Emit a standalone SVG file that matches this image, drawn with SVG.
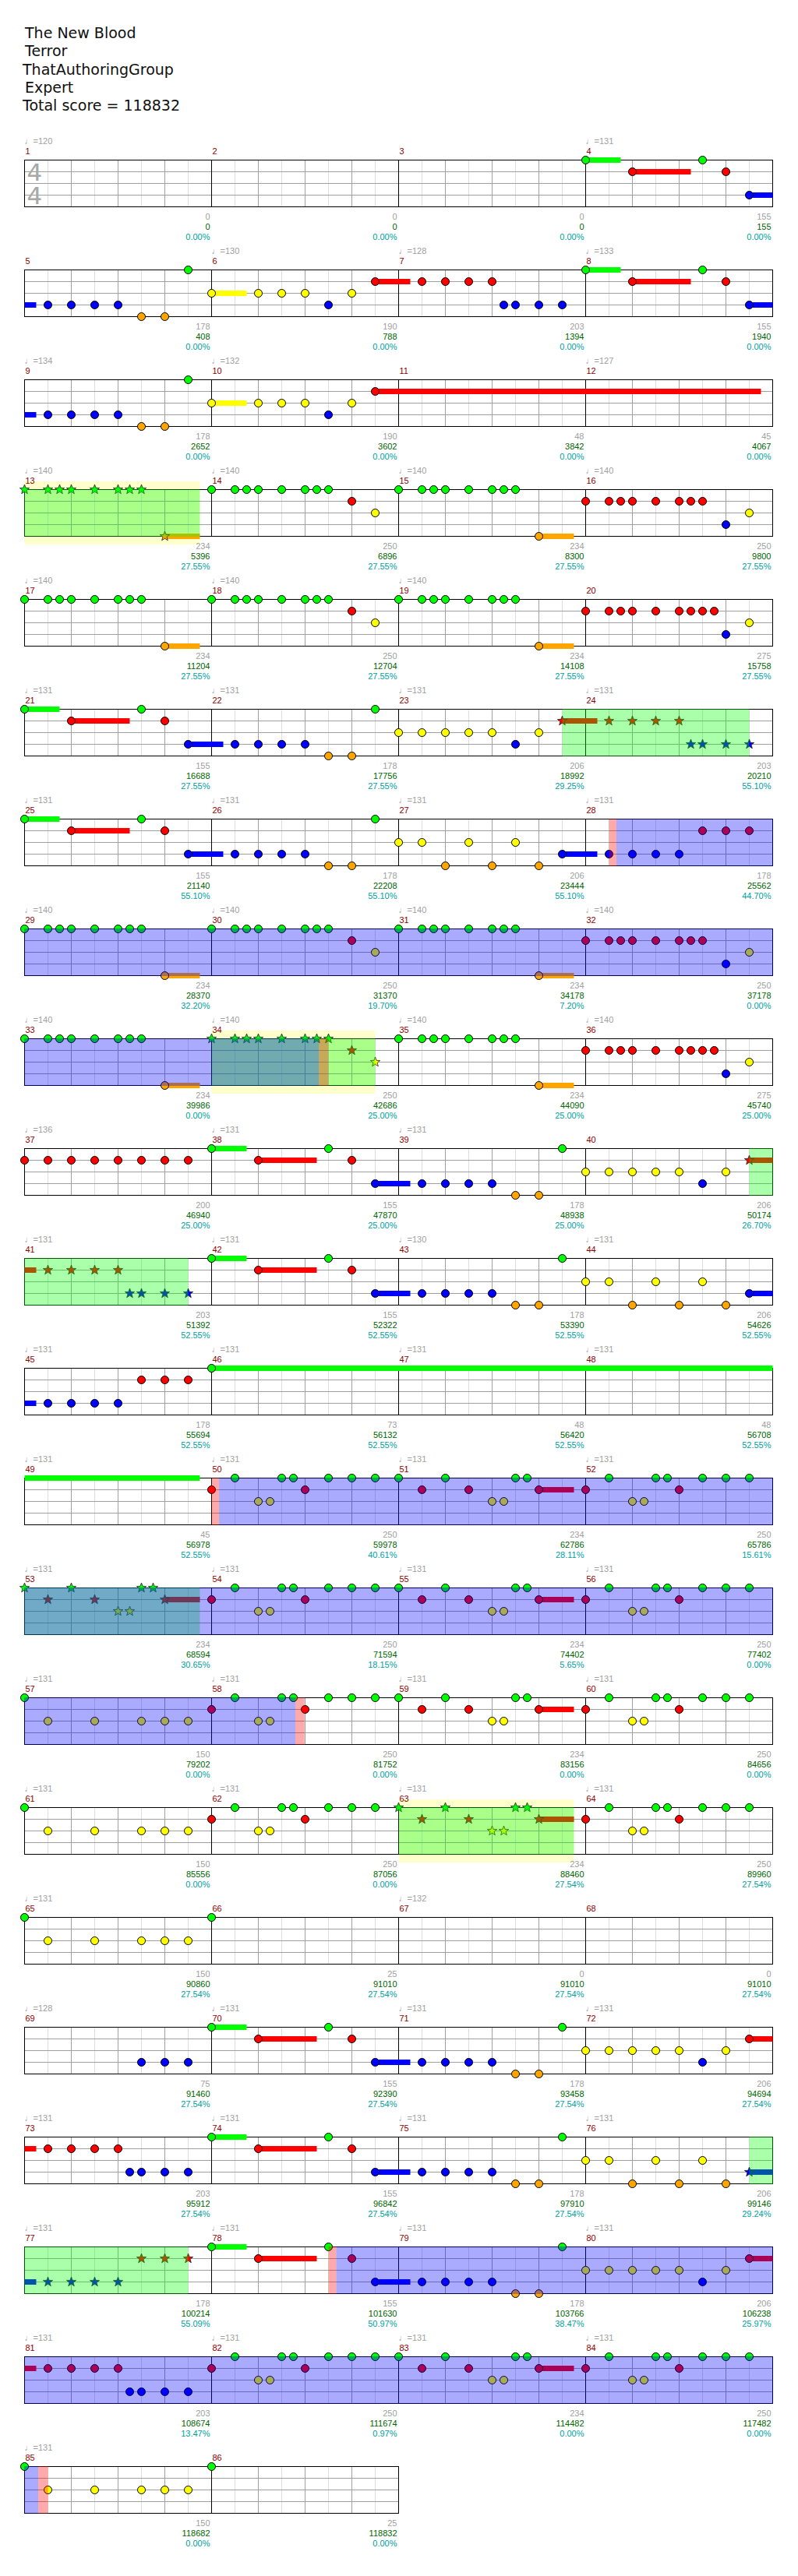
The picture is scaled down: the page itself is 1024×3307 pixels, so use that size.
<svg xmlns="http://www.w3.org/2000/svg" xmlns:xlink="http://www.w3.org/1999/xlink" width="1024" height="3307" viewBox="0 0 1024 3307">
<style>
.hd{font:19px "DejaVu Sans",sans-serif;fill:#111}
.ts{font:31px "DejaVu Sans",sans-serif;fill:#a8a8a8}
.tp{font:11px "Liberation Sans","DejaVu Sans",sans-serif;fill:#a0a0a0}
.mn{font:11px "Liberation Sans",sans-serif;fill:#8b0000}
.s1,.s2,.s3{font:11px "Liberation Sans",sans-serif;text-anchor:end}
.s1{fill:#a0a0a0}.s2{fill:#006400}.s3{fill:#00a0a0}
.zg{fill:#00ff00}.zr{fill:#ff0000}.zy{fill:#ffff00}.zb{fill:#0000ff}.zo{fill:#ffa500}
.oy{fill:#ffff00;fill-opacity:.2}.og{fill:#00ff00;fill-opacity:.333}.or{fill:#ff0000;fill-opacity:.333}.ob{fill:#0000ff;fill-opacity:.333}
</style>
<defs>
<g id="grid4" fill="none">
<path stroke="#dddddd" d="M30 0V60M90 0V60M150 0V60M210 0V60M270 0V60M330 0V60M390 0V60M450 0V60M510 0V60M570 0V60M630 0V60M690 0V60M750 0V60M810 0V60M870 0V60M930 0V60"/>
<path stroke="#a0a0a0" d="M60 0V60M120 0V60M180 0V60M300 0V60M360 0V60M420 0V60M540 0V60M600 0V60M660 0V60M780 0V60M840 0V60M900 0V60M0 15H960M0 30H960M0 45H960"/>
<path stroke="#000" d="M240 0V60M480 0V60M720 0V60"/>
<rect width="960" height="60" stroke="#000"/>
</g>
<g id="grid2" fill="none">
<path stroke="#dddddd" d="M30 0V60M90 0V60M150 0V60M210 0V60M270 0V60M330 0V60M390 0V60M450 0V60"/>
<path stroke="#a0a0a0" d="M60 0V60M120 0V60M180 0V60M300 0V60M360 0V60M420 0V60M0 15H480M0 30H480M0 45H480"/>
<path stroke="#000" d="M240 0V60"/>
<rect width="480" height="60" stroke="#000"/>
</g>
<circle id="g" r="5" fill="#00ff00" stroke="#000"/>
<circle id="r" cy="15" r="5" fill="#ff0000" stroke="#000"/>
<circle id="y" cy="30" r="5" fill="#ffff00" stroke="#000"/>
<circle id="b" cy="45" r="5" fill="#0000ff" stroke="#000"/>
<circle id="o" cy="60" r="5" fill="#ffa500" stroke="#000"/>
<path id="st" stroke="#222" stroke-width="0.8" d="M0,-6.5L1.59,-2.18L6.18,-2.01L2.57,0.83L3.82,5.26L0,2.7L-3.82,5.26L-2.57,0.83L-6.18,-2.01L-1.59,-2.18Z"/>
<use id="sg" href="#st" fill="#00ff00"/>
<use id="sr" href="#st" y="15" fill="#ff0000"/>
<use id="sy" href="#st" y="30" fill="#ffff00"/>
<use id="sb" href="#st" y="45" fill="#0000ff"/>
<use id="so" href="#st" y="60" fill="#ffa500"/>
</defs>
<rect width="1024" height="3307" fill="#fff"/>
<g id="header">
<text class="hd" x="32" y="49">The New Blood</text>
<text class="hd" x="32" y="72">Terror</text>
<text class="hd" x="29" y="95.5">ThatAuthoringGroup</text>
<text class="hd" x="32" y="118.5">Expert</text>
<text class="hd" x="29" y="141.5">Total score = 118832</text>
</g>

<g id="row1" transform="translate(31.5 205.5)">
<use href="#grid4"/>
<text class="ts" x="3" y="26.5">4</text><text class="ts" x="3" y="56.5">4</text>
<rect class="zg" x="720" y="-3.5" width="45" height="7"/><rect class="zr" x="780" y="11.5" width="75" height="7"/><rect class="zb" x="930" y="41.5" width="30" height="7"/>
<use href="#g" x="720"/><use href="#r" x="780"/><use href="#g" x="870"/><use href="#r" x="900"/><use href="#b" x="930"/>
<text class="tp" y="-20.5"><tspan x="0">♩=120</tspan><tspan x="720">♩=131</tspan></text>
<text class="mn" y="-7.5"><tspan x="1">1</tspan><tspan x="241">2</tspan><tspan x="481">3</tspan><tspan x="721">4</tspan></text>
<text class="s1" y="76.5"><tspan x="238">0</tspan><tspan x="478">0</tspan><tspan x="718">0</tspan><tspan x="958">155</tspan></text>
<text class="s2" y="89.5"><tspan x="238">0</tspan><tspan x="478">0</tspan><tspan x="718">0</tspan><tspan x="958">155</tspan></text>
<text class="s3" y="102.5"><tspan x="238">0.00%</tspan><tspan x="478">0.00%</tspan><tspan x="718">0.00%</tspan><tspan x="958">0.00%</tspan></text>
</g>

<g id="row2" transform="translate(31.5 346.5)">
<use href="#grid4"/>
<rect class="zb" x="0" y="41.5" width="15" height="7"/><rect class="zy" x="240" y="26.5" width="45" height="7"/><rect class="zr" x="450" y="11.5" width="45" height="7"/><rect class="zg" x="720" y="-3.5" width="45" height="7"/><rect class="zr" x="780" y="11.5" width="75" height="7"/><rect class="zb" x="930" y="41.5" width="30" height="7"/>
<use href="#b" x="30"/><use href="#b" x="60"/><use href="#b" x="90"/><use href="#b" x="120"/><use href="#o" x="150"/><use href="#o" x="180"/><use href="#g" x="210"/><use href="#y" x="240"/><use href="#y" x="300"/><use href="#y" x="330"/><use href="#y" x="360"/><use href="#b" x="390"/><use href="#y" x="420"/><use href="#r" x="450"/><use href="#r" x="510"/><use href="#r" x="540"/><use href="#r" x="570"/><use href="#r" x="600"/><use href="#b" x="615"/><use href="#b" x="630"/><use href="#b" x="660"/><use href="#b" x="690"/><use href="#g" x="720"/><use href="#r" x="780"/><use href="#g" x="870"/><use href="#r" x="900"/><use href="#b" x="930"/>
<text class="tp" y="-20.5"><tspan x="240">♩=130</tspan><tspan x="480">♩=128</tspan><tspan x="720">♩=133</tspan></text>
<text class="mn" y="-7.5"><tspan x="1">5</tspan><tspan x="241">6</tspan><tspan x="481">7</tspan><tspan x="721">8</tspan></text>
<text class="s1" y="76.5"><tspan x="238">178</tspan><tspan x="478">190</tspan><tspan x="718">203</tspan><tspan x="958">155</tspan></text>
<text class="s2" y="89.5"><tspan x="238">408</tspan><tspan x="478">788</tspan><tspan x="718">1394</tspan><tspan x="958">1940</tspan></text>
<text class="s3" y="102.5"><tspan x="238">0.00%</tspan><tspan x="478">0.00%</tspan><tspan x="718">0.00%</tspan><tspan x="958">0.00%</tspan></text>
</g>

<g id="row3" transform="translate(31.5 487.5)">
<use href="#grid4"/>
<rect class="zb" x="0" y="41.5" width="15" height="7"/><rect class="zy" x="240" y="26.5" width="45" height="7"/><rect class="zr" x="450" y="11.5" width="495" height="7"/>
<use href="#b" x="30"/><use href="#b" x="60"/><use href="#b" x="90"/><use href="#b" x="120"/><use href="#o" x="150"/><use href="#o" x="180"/><use href="#g" x="210"/><use href="#y" x="240"/><use href="#y" x="300"/><use href="#y" x="330"/><use href="#y" x="360"/><use href="#b" x="390"/><use href="#y" x="420"/><use href="#r" x="450"/>
<text class="tp" y="-20.5"><tspan x="0">♩=134</tspan><tspan x="240">♩=132</tspan><tspan x="720">♩=127</tspan></text>
<text class="mn" y="-7.5"><tspan x="1">9</tspan><tspan x="241">10</tspan><tspan x="481">11</tspan><tspan x="721">12</tspan></text>
<text class="s1" y="76.5"><tspan x="238">178</tspan><tspan x="478">190</tspan><tspan x="718">48</tspan><tspan x="958">45</tspan></text>
<text class="s2" y="89.5"><tspan x="238">2652</tspan><tspan x="478">3602</tspan><tspan x="718">3842</tspan><tspan x="958">4067</tspan></text>
<text class="s3" y="102.5"><tspan x="238">0.00%</tspan><tspan x="478">0.00%</tspan><tspan x="718">0.00%</tspan><tspan x="958">0.00%</tspan></text>
</g>

<g id="row4" transform="translate(31.5 628.5)">
<rect class="oy" x="0" y="-10.5" width="225" height="81"/>
<use href="#grid4"/>
<rect class="zo" x="180" y="56.5" width="45" height="7"/><rect class="zo" x="660" y="56.5" width="45" height="7"/>
<use href="#sg" x="0"/><use href="#sg" x="30"/><use href="#sg" x="45"/><use href="#sg" x="60"/><use href="#sg" x="90"/><use href="#sg" x="120"/><use href="#sg" x="135"/><use href="#sg" x="150"/><use href="#so" x="180"/>
<use href="#g" x="240"/><use href="#g" x="270"/><use href="#g" x="285"/><use href="#g" x="300"/><use href="#g" x="330"/><use href="#g" x="360"/><use href="#g" x="375"/><use href="#g" x="390"/><use href="#r" x="420"/><use href="#y" x="450"/><use href="#g" x="480"/><use href="#g" x="510"/><use href="#g" x="525"/><use href="#g" x="540"/><use href="#g" x="570"/><use href="#g" x="600"/><use href="#g" x="615"/><use href="#g" x="630"/><use href="#o" x="660"/><use href="#r" x="720"/><use href="#r" x="750"/><use href="#r" x="765"/><use href="#r" x="780"/><use href="#r" x="810"/><use href="#r" x="840"/><use href="#r" x="855"/><use href="#r" x="870"/><use href="#b" x="900"/><use href="#y" x="930"/>
<rect class="og" x="-0.5" y="-0.5" width="225.5" height="61"/>
<text class="tp" y="-20.5"><tspan x="0">♩=140</tspan><tspan x="240">♩=140</tspan><tspan x="480">♩=140</tspan><tspan x="720">♩=140</tspan></text>
<text class="mn" y="-7.5"><tspan x="1">13</tspan><tspan x="241">14</tspan><tspan x="481">15</tspan><tspan x="721">16</tspan></text>
<text class="s1" y="76.5"><tspan x="238">234</tspan><tspan x="478">250</tspan><tspan x="718">234</tspan><tspan x="958">250</tspan></text>
<text class="s2" y="89.5"><tspan x="238">5396</tspan><tspan x="478">6896</tspan><tspan x="718">8300</tspan><tspan x="958">9800</tspan></text>
<text class="s3" y="102.5"><tspan x="238">27.55%</tspan><tspan x="478">27.55%</tspan><tspan x="718">27.55%</tspan><tspan x="958">27.55%</tspan></text>
</g>

<g id="row5" transform="translate(31.5 769.5)">
<use href="#grid4"/>
<rect class="zo" x="180" y="56.5" width="45" height="7"/><rect class="zo" x="660" y="56.5" width="45" height="7"/>
<use href="#g" x="0"/><use href="#g" x="30"/><use href="#g" x="45"/><use href="#g" x="60"/><use href="#g" x="90"/><use href="#g" x="120"/><use href="#g" x="135"/><use href="#g" x="150"/><use href="#o" x="180"/>
<use href="#g" x="240"/><use href="#g" x="270"/><use href="#g" x="285"/><use href="#g" x="300"/><use href="#g" x="330"/><use href="#g" x="360"/><use href="#g" x="375"/><use href="#g" x="390"/><use href="#r" x="420"/><use href="#y" x="450"/><use href="#g" x="480"/><use href="#g" x="510"/><use href="#g" x="525"/><use href="#g" x="540"/><use href="#g" x="570"/><use href="#g" x="600"/><use href="#g" x="615"/><use href="#g" x="630"/><use href="#o" x="660"/><use href="#r" x="720"/><use href="#r" x="750"/><use href="#r" x="765"/><use href="#r" x="780"/><use href="#r" x="810"/><use href="#r" x="840"/><use href="#r" x="855"/><use href="#r" x="870"/><use href="#r" x="885"/><use href="#b" x="900"/><use href="#y" x="930"/>
<text class="tp" y="-20.5"><tspan x="0">♩=140</tspan><tspan x="240">♩=140</tspan><tspan x="480">♩=140</tspan></text>
<text class="mn" y="-7.5"><tspan x="1">17</tspan><tspan x="241">18</tspan><tspan x="481">19</tspan><tspan x="721">20</tspan></text>
<text class="s1" y="76.5"><tspan x="238">234</tspan><tspan x="478">250</tspan><tspan x="718">234</tspan><tspan x="958">275</tspan></text>
<text class="s2" y="89.5"><tspan x="238">11204</tspan><tspan x="478">12704</tspan><tspan x="718">14108</tspan><tspan x="958">15758</tspan></text>
<text class="s3" y="102.5"><tspan x="238">27.55%</tspan><tspan x="478">27.55%</tspan><tspan x="718">27.55%</tspan><tspan x="958">27.55%</tspan></text>
</g>

<g id="row6" transform="translate(31.5 910.5)">
<use href="#grid4"/>
<rect class="zg" x="0" y="-3.5" width="45" height="7"/><rect class="zr" x="60" y="11.5" width="75" height="7"/><rect class="zb" x="210" y="41.5" width="45" height="7"/><rect class="zr" x="690" y="11.5" width="45" height="7"/>
<use href="#g" x="0"/><use href="#r" x="60"/><use href="#g" x="150"/><use href="#r" x="180"/><use href="#b" x="210"/><use href="#b" x="270"/><use href="#b" x="300"/><use href="#b" x="330"/><use href="#b" x="360"/><use href="#o" x="390"/><use href="#o" x="420"/><use href="#g" x="450"/><use href="#y" x="480"/><use href="#y" x="510"/><use href="#y" x="540"/><use href="#y" x="570"/><use href="#y" x="600"/><use href="#b" x="630"/><use href="#y" x="660"/>
<use href="#sr" x="690"/><use href="#sr" x="750"/><use href="#sr" x="780"/><use href="#sr" x="810"/><use href="#sr" x="840"/><use href="#sb" x="855"/><use href="#sb" x="870"/><use href="#sb" x="900"/><use href="#sb" x="930"/>
<rect class="og" x="690" y="-0.5" width="240" height="61"/>
<text class="tp" y="-20.5"><tspan x="0">♩=131</tspan><tspan x="240">♩=131</tspan><tspan x="480">♩=131</tspan><tspan x="720">♩=131</tspan></text>
<text class="mn" y="-7.5"><tspan x="1">21</tspan><tspan x="241">22</tspan><tspan x="481">23</tspan><tspan x="721">24</tspan></text>
<text class="s1" y="76.5"><tspan x="238">155</tspan><tspan x="478">178</tspan><tspan x="718">206</tspan><tspan x="958">203</tspan></text>
<text class="s2" y="89.5"><tspan x="238">16688</tspan><tspan x="478">17756</tspan><tspan x="718">18992</tspan><tspan x="958">20210</tspan></text>
<text class="s3" y="102.5"><tspan x="238">27.55%</tspan><tspan x="478">27.55%</tspan><tspan x="718">29.25%</tspan><tspan x="958">55.10%</tspan></text>
</g>

<g id="row7" transform="translate(31.5 1051.5)">
<use href="#grid4"/>
<rect class="zg" x="0" y="-3.5" width="45" height="7"/><rect class="zr" x="60" y="11.5" width="75" height="7"/><rect class="zb" x="210" y="41.5" width="45" height="7"/><rect class="zb" x="690" y="41.5" width="45" height="7"/>
<use href="#g" x="0"/><use href="#r" x="60"/><use href="#g" x="150"/><use href="#r" x="180"/><use href="#b" x="210"/><use href="#b" x="270"/><use href="#b" x="300"/><use href="#b" x="330"/><use href="#b" x="360"/><use href="#o" x="390"/><use href="#o" x="420"/><use href="#g" x="450"/><use href="#y" x="480"/><use href="#y" x="510"/><use href="#o" x="540"/><use href="#y" x="570"/><use href="#o" x="600"/><use href="#y" x="630"/><use href="#o" x="660"/><use href="#b" x="690"/><use href="#b" x="750"/><use href="#b" x="780"/><use href="#b" x="810"/><use href="#b" x="840"/><use href="#r" x="870"/><use href="#r" x="900"/><use href="#r" x="930"/>
<rect class="or" x="750" y="-0.5" width="9.5" height="61"/><rect class="ob" x="759.5" y="-0.5" width="201" height="61"/>
<text class="tp" y="-20.5"><tspan x="0">♩=131</tspan><tspan x="240">♩=131</tspan><tspan x="480">♩=131</tspan><tspan x="720">♩=131</tspan></text>
<text class="mn" y="-7.5"><tspan x="1">25</tspan><tspan x="241">26</tspan><tspan x="481">27</tspan><tspan x="721">28</tspan></text>
<text class="s1" y="76.5"><tspan x="238">155</tspan><tspan x="478">178</tspan><tspan x="718">206</tspan><tspan x="958">178</tspan></text>
<text class="s2" y="89.5"><tspan x="238">21140</tspan><tspan x="478">22208</tspan><tspan x="718">23444</tspan><tspan x="958">25562</tspan></text>
<text class="s3" y="102.5"><tspan x="238">55.10%</tspan><tspan x="478">55.10%</tspan><tspan x="718">55.10%</tspan><tspan x="958">44.70%</tspan></text>
</g>

<g id="row8" transform="translate(31.5 1192.5)">
<use href="#grid4"/>
<rect class="zo" x="180" y="56.5" width="45" height="7"/><rect class="zo" x="660" y="56.5" width="45" height="7"/>
<use href="#g" x="0"/><use href="#g" x="30"/><use href="#g" x="45"/><use href="#g" x="60"/><use href="#g" x="90"/><use href="#g" x="120"/><use href="#g" x="135"/><use href="#g" x="150"/><use href="#o" x="180"/>
<use href="#g" x="240"/><use href="#g" x="270"/><use href="#g" x="285"/><use href="#g" x="300"/><use href="#g" x="330"/><use href="#g" x="360"/><use href="#g" x="375"/><use href="#g" x="390"/><use href="#r" x="420"/><use href="#y" x="450"/><use href="#g" x="480"/><use href="#g" x="510"/><use href="#g" x="525"/><use href="#g" x="540"/><use href="#g" x="570"/><use href="#g" x="600"/><use href="#g" x="615"/><use href="#g" x="630"/><use href="#o" x="660"/><use href="#r" x="720"/><use href="#r" x="750"/><use href="#r" x="765"/><use href="#r" x="780"/><use href="#r" x="810"/><use href="#r" x="840"/><use href="#r" x="855"/><use href="#r" x="870"/><use href="#b" x="900"/><use href="#y" x="930"/>
<rect class="ob" x="-0.5" y="-0.5" width="961" height="61"/>
<text class="tp" y="-20.5"><tspan x="0">♩=140</tspan><tspan x="240">♩=140</tspan><tspan x="480">♩=140</tspan><tspan x="720">♩=140</tspan></text>
<text class="mn" y="-7.5"><tspan x="1">29</tspan><tspan x="241">30</tspan><tspan x="481">31</tspan><tspan x="721">32</tspan></text>
<text class="s1" y="76.5"><tspan x="238">234</tspan><tspan x="478">250</tspan><tspan x="718">234</tspan><tspan x="958">250</tspan></text>
<text class="s2" y="89.5"><tspan x="238">28370</tspan><tspan x="478">31370</tspan><tspan x="718">34178</tspan><tspan x="958">37178</tspan></text>
<text class="s3" y="102.5"><tspan x="238">32.20%</tspan><tspan x="478">19.70%</tspan><tspan x="718">7.20%</tspan><tspan x="958">0.00%</tspan></text>
</g>

<g id="row9" transform="translate(31.5 1333.5)">
<rect class="oy" x="240" y="-10.5" width="210" height="81"/>
<use href="#grid4"/>
<rect class="zo" x="180" y="56.5" width="45" height="7"/><rect class="zo" x="660" y="56.5" width="45" height="7"/>
<use href="#g" x="0"/><use href="#g" x="30"/><use href="#g" x="45"/><use href="#g" x="60"/><use href="#g" x="90"/><use href="#g" x="120"/><use href="#g" x="135"/><use href="#g" x="150"/><use href="#o" x="180"/>
<use href="#sg" x="240"/><use href="#sg" x="270"/><use href="#sg" x="285"/><use href="#sg" x="300"/><use href="#sg" x="330"/><use href="#sg" x="360"/><use href="#sg" x="375"/><use href="#sg" x="390"/><use href="#sr" x="420"/><use href="#sy" x="450"/>
<use href="#g" x="480"/><use href="#g" x="510"/><use href="#g" x="525"/><use href="#g" x="540"/><use href="#g" x="570"/><use href="#g" x="600"/><use href="#g" x="615"/><use href="#g" x="630"/><use href="#o" x="660"/><use href="#r" x="720"/><use href="#r" x="750"/><use href="#r" x="765"/><use href="#r" x="780"/><use href="#r" x="810"/><use href="#r" x="840"/><use href="#r" x="855"/><use href="#r" x="870"/><use href="#r" x="885"/><use href="#b" x="900"/><use href="#y" x="930"/>
<rect class="og" x="240" y="-0.5" width="210" height="61"/><rect class="or" x="377.5" y="-0.5" width="12.5" height="61"/><rect class="ob" x="-0.5" y="-0.5" width="378" height="61"/>
<text class="tp" y="-20.5"><tspan x="0">♩=140</tspan><tspan x="240">♩=140</tspan><tspan x="480">♩=140</tspan><tspan x="720">♩=140</tspan></text>
<text class="mn" y="-7.5"><tspan x="1">33</tspan><tspan x="241">34</tspan><tspan x="481">35</tspan><tspan x="721">36</tspan></text>
<text class="s1" y="76.5"><tspan x="238">234</tspan><tspan x="478">250</tspan><tspan x="718">234</tspan><tspan x="958">275</tspan></text>
<text class="s2" y="89.5"><tspan x="238">39986</tspan><tspan x="478">42686</tspan><tspan x="718">44090</tspan><tspan x="958">45740</tspan></text>
<text class="s3" y="102.5"><tspan x="238">0.00%</tspan><tspan x="478">25.00%</tspan><tspan x="718">25.00%</tspan><tspan x="958">25.00%</tspan></text>
</g>

<g id="row10" transform="translate(31.5 1474.5)">
<use href="#grid4"/>
<rect class="zg" x="240" y="-3.5" width="45" height="7"/><rect class="zr" x="300" y="11.5" width="75" height="7"/><rect class="zb" x="450" y="41.5" width="45" height="7"/><rect class="zr" x="930" y="11.5" width="30" height="7"/>
<use href="#r" x="0"/><use href="#r" x="30"/><use href="#r" x="60"/><use href="#r" x="90"/><use href="#r" x="120"/><use href="#r" x="150"/><use href="#r" x="180"/><use href="#r" x="210"/><use href="#g" x="240"/><use href="#r" x="300"/><use href="#g" x="390"/><use href="#r" x="420"/><use href="#b" x="450"/><use href="#b" x="510"/><use href="#b" x="540"/><use href="#b" x="570"/><use href="#b" x="600"/><use href="#o" x="630"/><use href="#o" x="660"/><use href="#g" x="690"/><use href="#y" x="720"/><use href="#y" x="750"/><use href="#y" x="780"/><use href="#y" x="810"/><use href="#y" x="840"/><use href="#b" x="870"/><use href="#y" x="900"/>
<use href="#sr" x="930"/>
<rect class="og" x="930" y="-0.5" width="30.5" height="61"/>
<text class="tp" y="-20.5"><tspan x="0">♩=136</tspan><tspan x="240">♩=131</tspan><tspan x="480">♩=131</tspan></text>
<text class="mn" y="-7.5"><tspan x="1">37</tspan><tspan x="241">38</tspan><tspan x="481">39</tspan><tspan x="721">40</tspan></text>
<text class="s1" y="76.5"><tspan x="238">200</tspan><tspan x="478">155</tspan><tspan x="718">178</tspan><tspan x="958">206</tspan></text>
<text class="s2" y="89.5"><tspan x="238">46940</tspan><tspan x="478">47870</tspan><tspan x="718">48938</tspan><tspan x="958">50174</tspan></text>
<text class="s3" y="102.5"><tspan x="238">25.00%</tspan><tspan x="478">25.00%</tspan><tspan x="718">25.00%</tspan><tspan x="958">26.70%</tspan></text>
</g>

<g id="row11" transform="translate(31.5 1615.5)">
<use href="#grid4"/>
<rect class="zr" x="0" y="11.5" width="15" height="7"/><rect class="zg" x="240" y="-3.5" width="45" height="7"/><rect class="zr" x="300" y="11.5" width="75" height="7"/><rect class="zb" x="450" y="41.5" width="45" height="7"/><rect class="zb" x="930" y="41.5" width="30" height="7"/>
<use href="#sr" x="30"/><use href="#sr" x="60"/><use href="#sr" x="90"/><use href="#sr" x="120"/><use href="#sb" x="135"/><use href="#sb" x="150"/><use href="#sb" x="180"/><use href="#sb" x="210"/>
<use href="#g" x="240"/><use href="#r" x="300"/><use href="#g" x="390"/><use href="#r" x="420"/><use href="#b" x="450"/><use href="#b" x="510"/><use href="#b" x="540"/><use href="#b" x="570"/><use href="#b" x="600"/><use href="#o" x="630"/><use href="#o" x="660"/><use href="#g" x="690"/><use href="#y" x="720"/><use href="#y" x="750"/><use href="#o" x="780"/><use href="#y" x="810"/><use href="#o" x="840"/><use href="#y" x="870"/><use href="#o" x="900"/><use href="#b" x="930"/>
<rect class="og" x="-0.5" y="-0.5" width="210.5" height="61"/>
<text class="tp" y="-20.5"><tspan x="0">♩=131</tspan><tspan x="240">♩=131</tspan><tspan x="480">♩=130</tspan><tspan x="720">♩=131</tspan></text>
<text class="mn" y="-7.5"><tspan x="1">41</tspan><tspan x="241">42</tspan><tspan x="481">43</tspan><tspan x="721">44</tspan></text>
<text class="s1" y="76.5"><tspan x="238">203</tspan><tspan x="478">155</tspan><tspan x="718">178</tspan><tspan x="958">206</tspan></text>
<text class="s2" y="89.5"><tspan x="238">51392</tspan><tspan x="478">52322</tspan><tspan x="718">53390</tspan><tspan x="958">54626</tspan></text>
<text class="s3" y="102.5"><tspan x="238">52.55%</tspan><tspan x="478">52.55%</tspan><tspan x="718">52.55%</tspan><tspan x="958">52.55%</tspan></text>
</g>

<g id="row12" transform="translate(31.5 1756.5)">
<use href="#grid4"/>
<rect class="zb" x="0" y="41.5" width="15" height="7"/><rect class="zg" x="240" y="-3.5" width="720" height="7"/>
<use href="#b" x="30"/><use href="#b" x="60"/><use href="#b" x="90"/><use href="#b" x="120"/><use href="#r" x="150"/><use href="#r" x="180"/><use href="#r" x="210"/><use href="#g" x="240"/>
<text class="tp" y="-20.5"><tspan x="0">♩=131</tspan><tspan x="240">♩=131</tspan><tspan x="480">♩=131</tspan><tspan x="720">♩=131</tspan></text>
<text class="mn" y="-7.5"><tspan x="1">45</tspan><tspan x="241">46</tspan><tspan x="481">47</tspan><tspan x="721">48</tspan></text>
<text class="s1" y="76.5"><tspan x="238">178</tspan><tspan x="478">73</tspan><tspan x="718">48</tspan><tspan x="958">48</tspan></text>
<text class="s2" y="89.5"><tspan x="238">55694</tspan><tspan x="478">56132</tspan><tspan x="718">56420</tspan><tspan x="958">56708</tspan></text>
<text class="s3" y="102.5"><tspan x="238">52.55%</tspan><tspan x="478">52.55%</tspan><tspan x="718">52.55%</tspan><tspan x="958">52.55%</tspan></text>
</g>

<g id="row13" transform="translate(31.5 1897.5)">
<use href="#grid4"/>
<rect class="zg" x="0" y="-3.5" width="225" height="7"/><rect class="zr" x="660" y="11.5" width="45" height="7"/>
<use href="#r" x="240"/><use href="#g" x="270"/><use href="#y" x="300"/><use href="#y" x="315"/><use href="#g" x="330"/><use href="#g" x="345"/><use href="#r" x="360"/><use href="#g" x="390"/><use href="#g" x="420"/><use href="#g" x="450"/><use href="#g" x="480"/><use href="#r" x="510"/><use href="#g" x="540"/><use href="#r" x="570"/><use href="#y" x="600"/><use href="#y" x="615"/><use href="#g" x="630"/><use href="#g" x="645"/><use href="#r" x="660"/><use href="#r" x="720"/><use href="#g" x="750"/><use href="#y" x="780"/><use href="#y" x="795"/><use href="#g" x="810"/><use href="#g" x="825"/><use href="#r" x="840"/><use href="#g" x="870"/><use href="#g" x="900"/><use href="#g" x="930"/>
<rect class="or" x="240" y="-0.5" width="9.6" height="61"/><rect class="ob" x="249.6" y="-0.5" width="710.9" height="61"/>
<text class="tp" y="-20.5"><tspan x="0">♩=131</tspan><tspan x="240">♩=131</tspan><tspan x="480">♩=131</tspan><tspan x="720">♩=131</tspan></text>
<text class="mn" y="-7.5"><tspan x="1">49</tspan><tspan x="241">50</tspan><tspan x="481">51</tspan><tspan x="721">52</tspan></text>
<text class="s1" y="76.5"><tspan x="238">45</tspan><tspan x="478">250</tspan><tspan x="718">234</tspan><tspan x="958">250</tspan></text>
<text class="s2" y="89.5"><tspan x="238">56978</tspan><tspan x="478">59978</tspan><tspan x="718">62786</tspan><tspan x="958">65786</tspan></text>
<text class="s3" y="102.5"><tspan x="238">52.55%</tspan><tspan x="478">40.61%</tspan><tspan x="718">28.11%</tspan><tspan x="958">15.61%</tspan></text>
</g>

<g id="row14" transform="translate(31.5 2038.5)">
<use href="#grid4"/>
<rect class="zr" x="180" y="11.5" width="45" height="7"/><rect class="zr" x="660" y="11.5" width="45" height="7"/>
<use href="#sg" x="0"/><use href="#sg" x="60"/><use href="#sg" x="150"/><use href="#sg" x="165"/><use href="#sr" x="30"/><use href="#sr" x="90"/><use href="#sr" x="180"/><use href="#sy" x="120"/><use href="#sy" x="135"/>
<use href="#r" x="240"/><use href="#g" x="270"/><use href="#y" x="300"/><use href="#y" x="315"/><use href="#g" x="330"/><use href="#g" x="345"/><use href="#r" x="360"/><use href="#g" x="390"/><use href="#g" x="420"/><use href="#g" x="450"/><use href="#g" x="480"/><use href="#r" x="510"/><use href="#g" x="540"/><use href="#r" x="570"/><use href="#y" x="600"/><use href="#y" x="615"/><use href="#g" x="630"/><use href="#g" x="645"/><use href="#r" x="660"/><use href="#r" x="720"/><use href="#g" x="750"/><use href="#y" x="780"/><use href="#y" x="795"/><use href="#g" x="810"/><use href="#g" x="825"/><use href="#r" x="840"/><use href="#g" x="870"/><use href="#g" x="900"/><use href="#g" x="930"/>
<rect class="og" x="-0.5" y="-0.5" width="225.5" height="61"/><rect class="ob" x="-0.5" y="-0.5" width="961" height="61"/>
<text class="tp" y="-20.5"><tspan x="0">♩=131</tspan><tspan x="240">♩=131</tspan><tspan x="480">♩=131</tspan><tspan x="720">♩=131</tspan></text>
<text class="mn" y="-7.5"><tspan x="1">53</tspan><tspan x="241">54</tspan><tspan x="481">55</tspan><tspan x="721">56</tspan></text>
<text class="s1" y="76.5"><tspan x="238">234</tspan><tspan x="478">250</tspan><tspan x="718">234</tspan><tspan x="958">250</tspan></text>
<text class="s2" y="89.5"><tspan x="238">68594</tspan><tspan x="478">71594</tspan><tspan x="718">74402</tspan><tspan x="958">77402</tspan></text>
<text class="s3" y="102.5"><tspan x="238">30.65%</tspan><tspan x="478">18.15%</tspan><tspan x="718">5.65%</tspan><tspan x="958">0.00%</tspan></text>
</g>

<g id="row15" transform="translate(31.5 2179.5)">
<use href="#grid4"/>
<rect class="zr" x="660" y="11.5" width="45" height="7"/>
<use href="#g" x="0"/><use href="#y" x="30"/><use href="#y" x="90"/><use href="#y" x="150"/><use href="#y" x="180"/><use href="#y" x="210"/><use href="#r" x="240"/><use href="#g" x="270"/><use href="#y" x="300"/><use href="#y" x="315"/><use href="#g" x="330"/><use href="#g" x="345"/><use href="#r" x="360"/><use href="#g" x="390"/><use href="#g" x="420"/><use href="#g" x="450"/><use href="#g" x="480"/><use href="#r" x="510"/><use href="#g" x="540"/><use href="#r" x="570"/><use href="#y" x="600"/><use href="#y" x="615"/><use href="#g" x="630"/><use href="#g" x="645"/><use href="#r" x="660"/><use href="#r" x="720"/><use href="#g" x="750"/><use href="#y" x="780"/><use href="#y" x="795"/><use href="#g" x="810"/><use href="#g" x="825"/><use href="#r" x="840"/><use href="#g" x="870"/><use href="#g" x="900"/><use href="#g" x="930"/>
<rect class="ob" x="-0.5" y="-0.5" width="348" height="61"/><rect class="or" x="347.5" y="-0.5" width="11.7" height="61"/>
<text class="tp" y="-20.5"><tspan x="0">♩=131</tspan><tspan x="240">♩=131</tspan><tspan x="480">♩=131</tspan><tspan x="720">♩=131</tspan></text>
<text class="mn" y="-7.5"><tspan x="1">57</tspan><tspan x="241">58</tspan><tspan x="481">59</tspan><tspan x="721">60</tspan></text>
<text class="s1" y="76.5"><tspan x="238">150</tspan><tspan x="478">250</tspan><tspan x="718">234</tspan><tspan x="958">250</tspan></text>
<text class="s2" y="89.5"><tspan x="238">79202</tspan><tspan x="478">81752</tspan><tspan x="718">83156</tspan><tspan x="958">84656</tspan></text>
<text class="s3" y="102.5"><tspan x="238">0.00%</tspan><tspan x="478">0.00%</tspan><tspan x="718">0.00%</tspan><tspan x="958">0.00%</tspan></text>
</g>

<g id="row16" transform="translate(31.5 2320.5)">
<rect class="oy" x="480" y="-10.5" width="225" height="81"/>
<use href="#grid4"/>
<rect class="zr" x="660" y="11.5" width="45" height="7"/>
<use href="#g" x="0"/><use href="#y" x="30"/><use href="#y" x="90"/><use href="#y" x="150"/><use href="#y" x="180"/><use href="#y" x="210"/><use href="#r" x="240"/><use href="#g" x="270"/><use href="#y" x="300"/><use href="#y" x="315"/><use href="#g" x="330"/><use href="#g" x="345"/><use href="#r" x="360"/><use href="#g" x="390"/><use href="#g" x="420"/><use href="#g" x="450"/>
<use href="#sg" x="480"/><use href="#sr" x="510"/><use href="#sg" x="540"/><use href="#sr" x="570"/><use href="#sy" x="600"/><use href="#sy" x="615"/><use href="#sg" x="630"/><use href="#sg" x="645"/><use href="#sr" x="660"/>
<use href="#r" x="720"/><use href="#g" x="750"/><use href="#y" x="780"/><use href="#y" x="795"/><use href="#g" x="810"/><use href="#g" x="825"/><use href="#r" x="840"/><use href="#g" x="870"/><use href="#g" x="900"/><use href="#g" x="930"/>
<rect class="og" x="480" y="-0.5" width="225" height="61"/>
<text class="tp" y="-20.5"><tspan x="0">♩=131</tspan><tspan x="240">♩=131</tspan><tspan x="480">♩=131</tspan><tspan x="720">♩=131</tspan></text>
<text class="mn" y="-7.5"><tspan x="1">61</tspan><tspan x="241">62</tspan><tspan x="481">63</tspan><tspan x="721">64</tspan></text>
<text class="s1" y="76.5"><tspan x="238">150</tspan><tspan x="478">250</tspan><tspan x="718">234</tspan><tspan x="958">250</tspan></text>
<text class="s2" y="89.5"><tspan x="238">85556</tspan><tspan x="478">87056</tspan><tspan x="718">88460</tspan><tspan x="958">89960</tspan></text>
<text class="s3" y="102.5"><tspan x="238">0.00%</tspan><tspan x="478">0.00%</tspan><tspan x="718">27.54%</tspan><tspan x="958">27.54%</tspan></text>
</g>

<g id="row17" transform="translate(31.5 2461.5)">
<use href="#grid4"/>
<use href="#g" x="0"/><use href="#y" x="30"/><use href="#y" x="90"/><use href="#y" x="150"/><use href="#y" x="180"/><use href="#y" x="210"/><use href="#g" x="240"/>
<text class="tp" y="-20.5"><tspan x="0">♩=131</tspan><tspan x="480">♩=132</tspan></text>
<text class="mn" y="-7.5"><tspan x="1">65</tspan><tspan x="241">66</tspan><tspan x="481">67</tspan><tspan x="721">68</tspan></text>
<text class="s1" y="76.5"><tspan x="238">150</tspan><tspan x="478">25</tspan><tspan x="718">0</tspan><tspan x="958">0</tspan></text>
<text class="s2" y="89.5"><tspan x="238">90860</tspan><tspan x="478">91010</tspan><tspan x="718">91010</tspan><tspan x="958">91010</tspan></text>
<text class="s3" y="102.5"><tspan x="238">27.54%</tspan><tspan x="478">27.54%</tspan><tspan x="718">27.54%</tspan><tspan x="958">27.54%</tspan></text>
</g>

<g id="row18" transform="translate(31.5 2602.5)">
<use href="#grid4"/>
<rect class="zg" x="240" y="-3.5" width="45" height="7"/><rect class="zr" x="300" y="11.5" width="75" height="7"/><rect class="zb" x="450" y="41.5" width="45" height="7"/><rect class="zr" x="930" y="11.5" width="30" height="7"/>
<use href="#b" x="150"/><use href="#b" x="180"/><use href="#b" x="210"/><use href="#g" x="240"/><use href="#r" x="300"/><use href="#g" x="390"/><use href="#r" x="420"/><use href="#b" x="450"/><use href="#b" x="510"/><use href="#b" x="540"/><use href="#b" x="570"/><use href="#b" x="600"/><use href="#o" x="630"/><use href="#o" x="660"/><use href="#g" x="690"/><use href="#y" x="720"/><use href="#y" x="750"/><use href="#y" x="780"/><use href="#y" x="810"/><use href="#y" x="840"/><use href="#b" x="870"/><use href="#y" x="900"/><use href="#r" x="930"/>
<text class="tp" y="-20.5"><tspan x="0">♩=128</tspan><tspan x="240">♩=131</tspan><tspan x="480">♩=131</tspan><tspan x="720">♩=131</tspan></text>
<text class="mn" y="-7.5"><tspan x="1">69</tspan><tspan x="241">70</tspan><tspan x="481">71</tspan><tspan x="721">72</tspan></text>
<text class="s1" y="76.5"><tspan x="238">75</tspan><tspan x="478">155</tspan><tspan x="718">178</tspan><tspan x="958">206</tspan></text>
<text class="s2" y="89.5"><tspan x="238">91460</tspan><tspan x="478">92390</tspan><tspan x="718">93458</tspan><tspan x="958">94694</tspan></text>
<text class="s3" y="102.5"><tspan x="238">27.54%</tspan><tspan x="478">27.54%</tspan><tspan x="718">27.54%</tspan><tspan x="958">27.54%</tspan></text>
</g>

<g id="row19" transform="translate(31.5 2743.5)">
<use href="#grid4"/>
<rect class="zr" x="0" y="11.5" width="15" height="7"/><rect class="zg" x="240" y="-3.5" width="45" height="7"/><rect class="zr" x="300" y="11.5" width="75" height="7"/><rect class="zb" x="450" y="41.5" width="45" height="7"/><rect class="zb" x="930" y="41.5" width="30" height="7"/>
<use href="#r" x="30"/><use href="#r" x="60"/><use href="#r" x="90"/><use href="#r" x="120"/><use href="#b" x="135"/><use href="#b" x="150"/><use href="#b" x="180"/><use href="#b" x="210"/><use href="#g" x="240"/><use href="#r" x="300"/><use href="#g" x="390"/><use href="#r" x="420"/><use href="#b" x="450"/><use href="#b" x="510"/><use href="#b" x="540"/><use href="#b" x="570"/><use href="#b" x="600"/><use href="#o" x="630"/><use href="#o" x="660"/><use href="#g" x="690"/><use href="#y" x="720"/><use href="#y" x="750"/><use href="#o" x="780"/><use href="#y" x="810"/><use href="#o" x="840"/><use href="#y" x="870"/><use href="#o" x="900"/>
<use href="#sb" x="930"/>
<rect class="og" x="930" y="-0.5" width="30.5" height="61"/>
<text class="tp" y="-20.5"><tspan x="0">♩=131</tspan><tspan x="240">♩=131</tspan><tspan x="480">♩=131</tspan><tspan x="720">♩=131</tspan></text>
<text class="mn" y="-7.5"><tspan x="1">73</tspan><tspan x="241">74</tspan><tspan x="481">75</tspan><tspan x="721">76</tspan></text>
<text class="s1" y="76.5"><tspan x="238">203</tspan><tspan x="478">155</tspan><tspan x="718">178</tspan><tspan x="958">206</tspan></text>
<text class="s2" y="89.5"><tspan x="238">95912</tspan><tspan x="478">96842</tspan><tspan x="718">97910</tspan><tspan x="958">99146</tspan></text>
<text class="s3" y="102.5"><tspan x="238">27.54%</tspan><tspan x="478">27.54%</tspan><tspan x="718">27.54%</tspan><tspan x="958">29.24%</tspan></text>
</g>

<g id="row20" transform="translate(31.5 2884.5)">
<use href="#grid4"/>
<rect class="zb" x="0" y="41.5" width="15" height="7"/><rect class="zg" x="240" y="-3.5" width="45" height="7"/><rect class="zr" x="300" y="11.5" width="75" height="7"/><rect class="zb" x="450" y="41.5" width="45" height="7"/><rect class="zr" x="930" y="11.5" width="30" height="7"/>
<use href="#sb" x="30"/><use href="#sb" x="60"/><use href="#sb" x="90"/><use href="#sb" x="120"/><use href="#sr" x="150"/><use href="#sr" x="180"/><use href="#sr" x="210"/>
<use href="#g" x="240"/><use href="#r" x="300"/><use href="#g" x="390"/><use href="#r" x="420"/><use href="#b" x="450"/><use href="#b" x="510"/><use href="#b" x="540"/><use href="#b" x="570"/><use href="#b" x="600"/><use href="#o" x="630"/><use href="#o" x="660"/><use href="#g" x="690"/><use href="#y" x="720"/><use href="#y" x="750"/><use href="#y" x="780"/><use href="#y" x="810"/><use href="#y" x="840"/><use href="#b" x="870"/><use href="#y" x="900"/><use href="#r" x="930"/>
<rect class="og" x="-0.5" y="-0.5" width="210.5" height="61"/><rect class="or" x="390" y="-0.5" width="10" height="61"/><rect class="ob" x="400" y="-0.5" width="560.5" height="61"/>
<text class="tp" y="-20.5"><tspan x="0">♩=131</tspan><tspan x="240">♩=131</tspan><tspan x="480">♩=131</tspan><tspan x="720">♩=131</tspan></text>
<text class="mn" y="-7.5"><tspan x="1">77</tspan><tspan x="241">78</tspan><tspan x="481">79</tspan><tspan x="721">80</tspan></text>
<text class="s1" y="76.5"><tspan x="238">178</tspan><tspan x="478">155</tspan><tspan x="718">178</tspan><tspan x="958">206</tspan></text>
<text class="s2" y="89.5"><tspan x="238">100214</tspan><tspan x="478">101630</tspan><tspan x="718">103766</tspan><tspan x="958">106238</tspan></text>
<text class="s3" y="102.5"><tspan x="238">55.09%</tspan><tspan x="478">50.97%</tspan><tspan x="718">38.47%</tspan><tspan x="958">25.97%</tspan></text>
</g>

<g id="row21" transform="translate(31.5 3025.5)">
<use href="#grid4"/>
<rect class="zr" x="0" y="11.5" width="15" height="7"/><rect class="zr" x="660" y="11.5" width="45" height="7"/>
<use href="#r" x="30"/><use href="#r" x="60"/><use href="#r" x="90"/><use href="#r" x="120"/><use href="#b" x="135"/><use href="#b" x="150"/><use href="#b" x="180"/><use href="#b" x="210"/><use href="#r" x="240"/><use href="#g" x="270"/><use href="#y" x="300"/><use href="#y" x="315"/><use href="#g" x="330"/><use href="#g" x="345"/><use href="#r" x="360"/><use href="#g" x="390"/><use href="#g" x="420"/><use href="#g" x="450"/><use href="#g" x="480"/><use href="#r" x="510"/><use href="#g" x="540"/><use href="#r" x="570"/><use href="#y" x="600"/><use href="#y" x="615"/><use href="#g" x="630"/><use href="#g" x="645"/><use href="#r" x="660"/><use href="#r" x="720"/><use href="#g" x="750"/><use href="#y" x="780"/><use href="#y" x="795"/><use href="#g" x="810"/><use href="#g" x="825"/><use href="#r" x="840"/><use href="#g" x="870"/><use href="#g" x="900"/><use href="#g" x="930"/>
<rect class="ob" x="-0.5" y="-0.5" width="961" height="61"/>
<text class="tp" y="-20.5"><tspan x="0">♩=131</tspan><tspan x="240">♩=131</tspan><tspan x="480">♩=131</tspan><tspan x="720">♩=131</tspan></text>
<text class="mn" y="-7.5"><tspan x="1">81</tspan><tspan x="241">82</tspan><tspan x="481">83</tspan><tspan x="721">84</tspan></text>
<text class="s1" y="76.5"><tspan x="238">203</tspan><tspan x="478">250</tspan><tspan x="718">234</tspan><tspan x="958">250</tspan></text>
<text class="s2" y="89.5"><tspan x="238">108674</tspan><tspan x="478">111674</tspan><tspan x="718">114482</tspan><tspan x="958">117482</tspan></text>
<text class="s3" y="102.5"><tspan x="238">13.47%</tspan><tspan x="478">0.97%</tspan><tspan x="718">0.00%</tspan><tspan x="958">0.00%</tspan></text>
</g>

<g id="row22" transform="translate(31.5 3166.5)">
<use href="#grid2"/>
<use href="#g" x="0"/><use href="#y" x="30"/><use href="#y" x="90"/><use href="#y" x="150"/><use href="#y" x="180"/><use href="#y" x="210"/><use href="#g" x="240"/>
<rect class="ob" x="-0.5" y="-0.5" width="18" height="61"/><rect class="or" x="17.5" y="-0.5" width="12.5" height="61"/>
<text class="tp" y="-20.5"><tspan x="0">♩=131</tspan></text>
<text class="mn" y="-7.5"><tspan x="1">85</tspan><tspan x="241">86</tspan></text>
<text class="s1" y="76.5"><tspan x="238">150</tspan><tspan x="478">25</tspan></text>
<text class="s2" y="89.5"><tspan x="238">118682</tspan><tspan x="478">118832</tspan></text>
<text class="s3" y="102.5"><tspan x="238">0.00%</tspan><tspan x="478">0.00%</tspan></text>
</g>
</svg>
